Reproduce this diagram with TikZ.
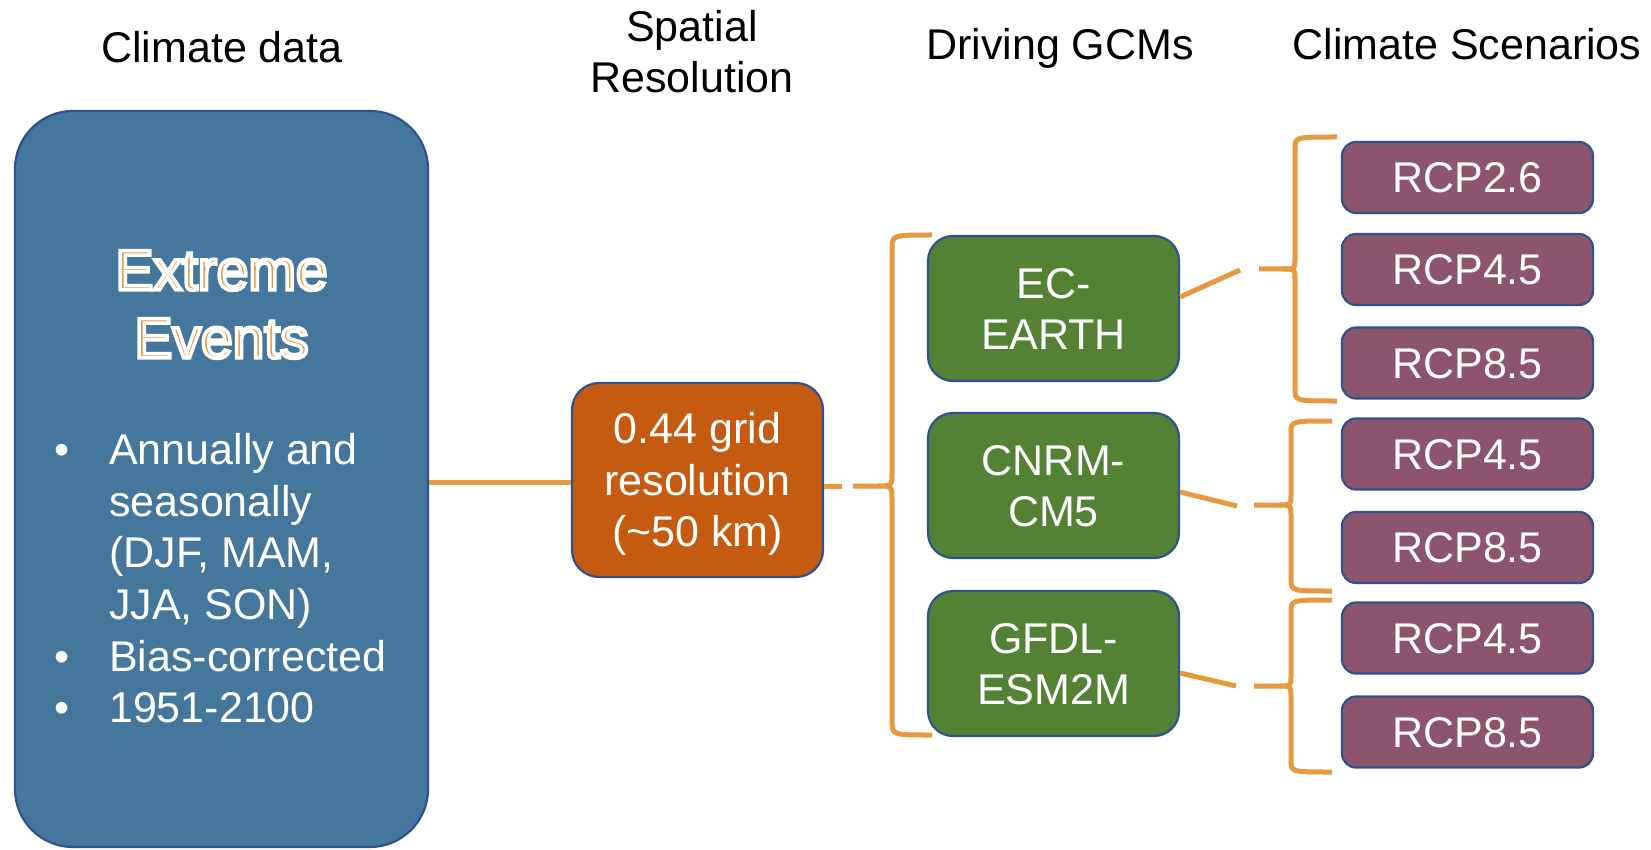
\documentclass[tikz,border=0pt]{standalone}
\usepackage{fontspec}
\setmainfont{Liberation Sans}
\usetikzlibrary{calc}
\definecolor{bigblue}{HTML}{45779D}
\definecolor{edge}{HTML}{2F528F}
\definecolor{resorange}{HTML}{C55A11}
\definecolor{gcmgreen}{HTML}{548235}
\definecolor{rcpmauve}{HTML}{8C556B}
\definecolor{lineorange}{HTML}{E6993F}
\newcommand\capstrut{\rule[-0.234em]{0pt}{1.184em}}
\newcommand\wstroke{\special{pdf:literal direct 1 1 1 RG 3.5 w 2 Tr}}
\newcommand\bracepath[7]{%
  \draw[brc] (#1,#2) .. controls (#3,#2) .. (#3,{#2+#7}) -- (#3,{#4-#7})
     .. controls (#3,#4) .. ({#3-#7},#4) -- (#5,#4);
  \draw[brc] ({#3-#7},#4) .. controls (#3,#4) .. (#3,{#4+#7}) -- (#3,{#6-#7})
     .. controls (#3,#6) .. (#1,#6);}
\begin{document}
\begin{tikzpicture}[x=1pt,y=-1pt,
  txt/.style={font=\fontsize{43}{51.6}\selectfont, inner sep=0pt, align=center},
  title/.style={txt, text=black},
  box/.style={draw=edge, line width=2.2pt, text=white, txt},
  gcm/.style={box, fill=gcmgreen, minimum width=251pt, minimum height=145pt, rounded corners=25pt},
  rcp/.style={box, fill=rcpmauve, minimum width=251pt, minimum height=71pt, rounded corners=14pt},
  conn/.style={draw=lineorange, line width=5pt},
  brc/.style={draw=lineorange, line width=5pt, line join=round}]
\useasboundingbox (0,0) rectangle (1651,850);
\fill[white] (0,0) rectangle (1651,850);

% titles
\node[title] (t1) at (222,47) {\capstrut Climate data};
\node[title] (t2) at (692,51.5) {\capstrut Spatial\\\capstrut Resolution};
\node[title] (t3) at (1060,44) {\capstrut Driving GCMs};
\node[title] (t4) at (1467,44) {\capstrut Climate Scenarios};

% climate data box
\node[draw=edge, line width=2.2pt, fill=bigblue, rounded corners=58pt,
      minimum width=413pt, minimum height=736pt] (clim) at (221.5,479) {};
\node[inner sep=0pt, align=center, text=lineorange,
      font=\fontsize{57}{68}\selectfont] (ee) at (221.5,303.5)
      {\wstroke\capstrut Extreme\\\wstroke\capstrut Events};
\node[inner sep=0pt, anchor=base west, text=white,
      font=\fontsize{43}{51.7}\selectfont] (list) at (54.5,464.4)
{\begin{tabular}[t]{@{}l@{}l@{}}
\makebox[54.5pt][l]{•} & Annually and\\
 & seasonally\\
 & (DJF, MAM,\\
 & JJA, SON)\\
\makebox[54.5pt][l]{•} & Bias-corrected\\
\makebox[54.5pt][l]{•} & 1951-2100
\end{tabular}};

% resolution box
\node[box, fill=resorange, minimum width=251pt, minimum height=194pt, rounded corners=27pt]
  (res) at (697.5,480) {\capstrut 0.44 grid\\\capstrut resolution\\\capstrut (\textasciitilde 50 km)};

% GCM boxes
\node[gcm] (ec) at (1053.5,308.5) {\capstrut EC-\\\capstrut EARTH};
\node[gcm] (cn) at (1053.5,485.5) {\capstrut CNRM-\\\capstrut CM5};
\node[gcm] (gf) at (1053.5,663.5) {\capstrut GFDL-\\\capstrut ESM2M};

% RCP boxes
\node[rcp] (r1) at (1467.5,177.5) {\capstrut RCP2.6};
\node[rcp] (r2) at (1467.5,269.5) {\capstrut RCP4.5};
\node[rcp] (r3) at (1467.5,363) {\capstrut RCP8.5};
\node[rcp] (r4) at (1467.5,454) {\capstrut RCP4.5};
\node[rcp] (r5) at (1467.5,547.5) {\capstrut RCP8.5};
\node[rcp] (r6) at (1467.5,638) {\capstrut RCP4.5};
\node[rcp] (r7) at (1467.5,732) {\capstrut RCP8.5};

% connectors
\draw[conn] (clim.east |- 0,482) -- (res.west |- 0,482);
\coordinate (g1) at (842,486);
\draw[conn] (res.east |- g1) -- (g1);
\bracepath{932}{235}{892}{486}{853}{735}{14}

\coordinate (e1) at (1240,270);
\coordinate (e2) at (1237,506);
\coordinate (e3) at (1236,686);
\draw[conn] ([yshift=11.5pt]ec.east) -- (e1);
\draw[conn] ([yshift=-6.5pt]cn.east) -- (e2);
\draw[conn] ([yshift=-9.5pt]gf.east) -- (e3);
\bracepath{1337}{137}{1295}{269}{1259}{401}{12}
\bracepath{1332}{421}{1291}{505}{1254}{591}{12}
\bracepath{1332}{600}{1291}{686}{1254}{772}{12}
\end{tikzpicture}
\end{document}
